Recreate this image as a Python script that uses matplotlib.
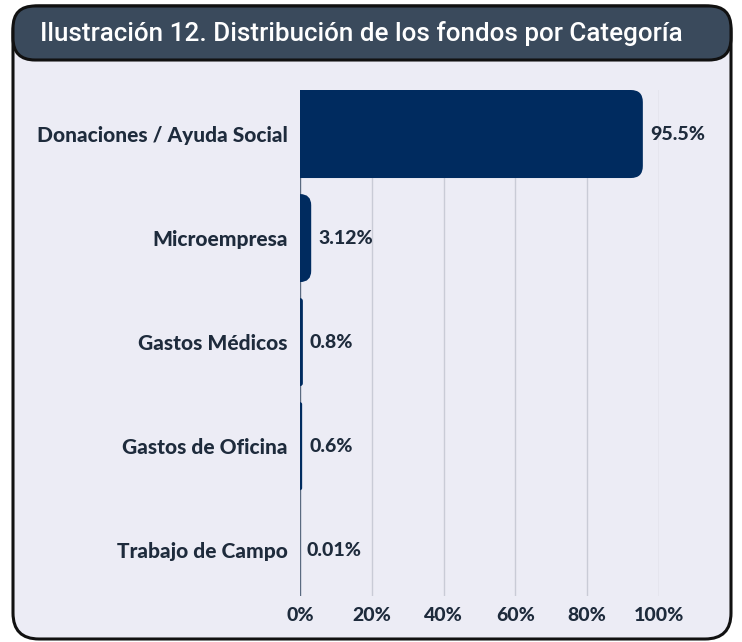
import matplotlib
matplotlib.use("Agg")
import matplotlib.pyplot as plt
from matplotlib.patches import FancyBboxPatch

categories = ["Donaciones / Ayuda Social", "Microempresa", "Gastos Médicos",
              "Gastos de Oficina", "Trabajo de Campo"]
values = [95.5, 3.12, 0.8, 0.6, 0.01]
value_labels = ["95.5%", "3.12%", "0.8%", "0.6%", "0.01%"]
xticks = [0, 20, 40, 60, 80, 100]
xtick_labels = ["0%", "20%", "40%", "60%", "80%", "100%"]
title = "Ilustración 12. Distribución de los fondos por Categoría"

W, H = 742, 642
BG = "#ECECF5"
BAR = "#002B5F"
TXT = "#1E2B3C"
HEAD = "#3A4A5C"

fig = plt.figure(figsize=(W / 100, H / 100), dpi=100)
fig.patch.set_facecolor("white")

# background layer in pixel coordinates
bg = fig.add_axes([0, 0, 1, 1])
bg.set_xlim(0, W)
bg.set_ylim(H, 0)
bg.axis("off")
frame = FancyBboxPatch((13, 6), 718, 633, boxstyle="round,pad=0,rounding_size=26",
                       facecolor=BG, edgecolor="#111111", linewidth=2.2)
bg.add_patch(frame)
header = FancyBboxPatch((13, 6), 718, 54, boxstyle="round,pad=0,rounding_size=22",
                        facecolor=HEAD, edgecolor="#111111", linewidth=2.2)
bg.add_patch(header)
bg.text(40, 33, title, color="white", fontsize=18.7, fontfamily="Roboto",
        fontweight="medium", ha="left", va="center")

# chart axes: x from px 300 to 659, y from px 90 to 596
left, right, top, bottom = 300, 659, 90, 596
ax = fig.add_axes([left / W, 1 - bottom / H, (right - left) / W, (bottom - top) / H])
ax.set_facecolor("none")
ax.set_xlim(0, 100)
ax.set_ylim(4.44, -0.423)
for s in ax.spines.values():
    s.set_visible(False)

for xt in xticks:
    ax.axvline(xt, color="#5A6A80" if xt == 0 else "#C9CBD6", linewidth=1.0, zorder=0)

bar_h = 0.846
bars = ax.barh(range(len(categories)), values, height=bar_h, color=BAR)
# replace bars with right-rounded versions
xpx = (right - left) / 100.0
ypx = (bottom - top) / (4.44 + 0.423)
aspect = (1 / ypx) / (1 / xpx)
for b in bars:
    x0, y0 = b.get_x(), b.get_y()
    w, h = b.get_width(), b.get_height()
    b.set_visible(False)
    r = min(12 / xpx, w)
    if w <= 0.05:
        continue
    p = FancyBboxPatch((x0 - r, y0), w + r, h,
                       boxstyle=f"round,pad=0,rounding_size={r}",
                       mutation_aspect=aspect, facecolor=BAR, edgecolor="none",
                       clip_on=True, zorder=2)
    ax.add_patch(p)

for i, (v, lab) in enumerate(zip(values, value_labels)):
    ax.annotate(lab, (v, i), xytext=(5, 0), textcoords="offset points",
                ha="left", va="center", fontsize=14, fontweight="black",
                fontfamily="Lato", color=TXT, annotation_clip=False)

ax.set_yticks(range(len(categories)))
ax.set_yticklabels(categories, fontsize=15, fontweight="black", fontfamily="Lato",
                   color=TXT)
ax.set_xticks(xticks)
ax.set_xticklabels(xtick_labels, fontsize=14, fontweight="black", fontfamily="Lato",
                   color=TXT)
ax.tick_params(axis="y", length=0, pad=9)
ax.tick_params(axis="x", length=0, pad=8)

fig.savefig("out.png", dpi=100, facecolor="white")
